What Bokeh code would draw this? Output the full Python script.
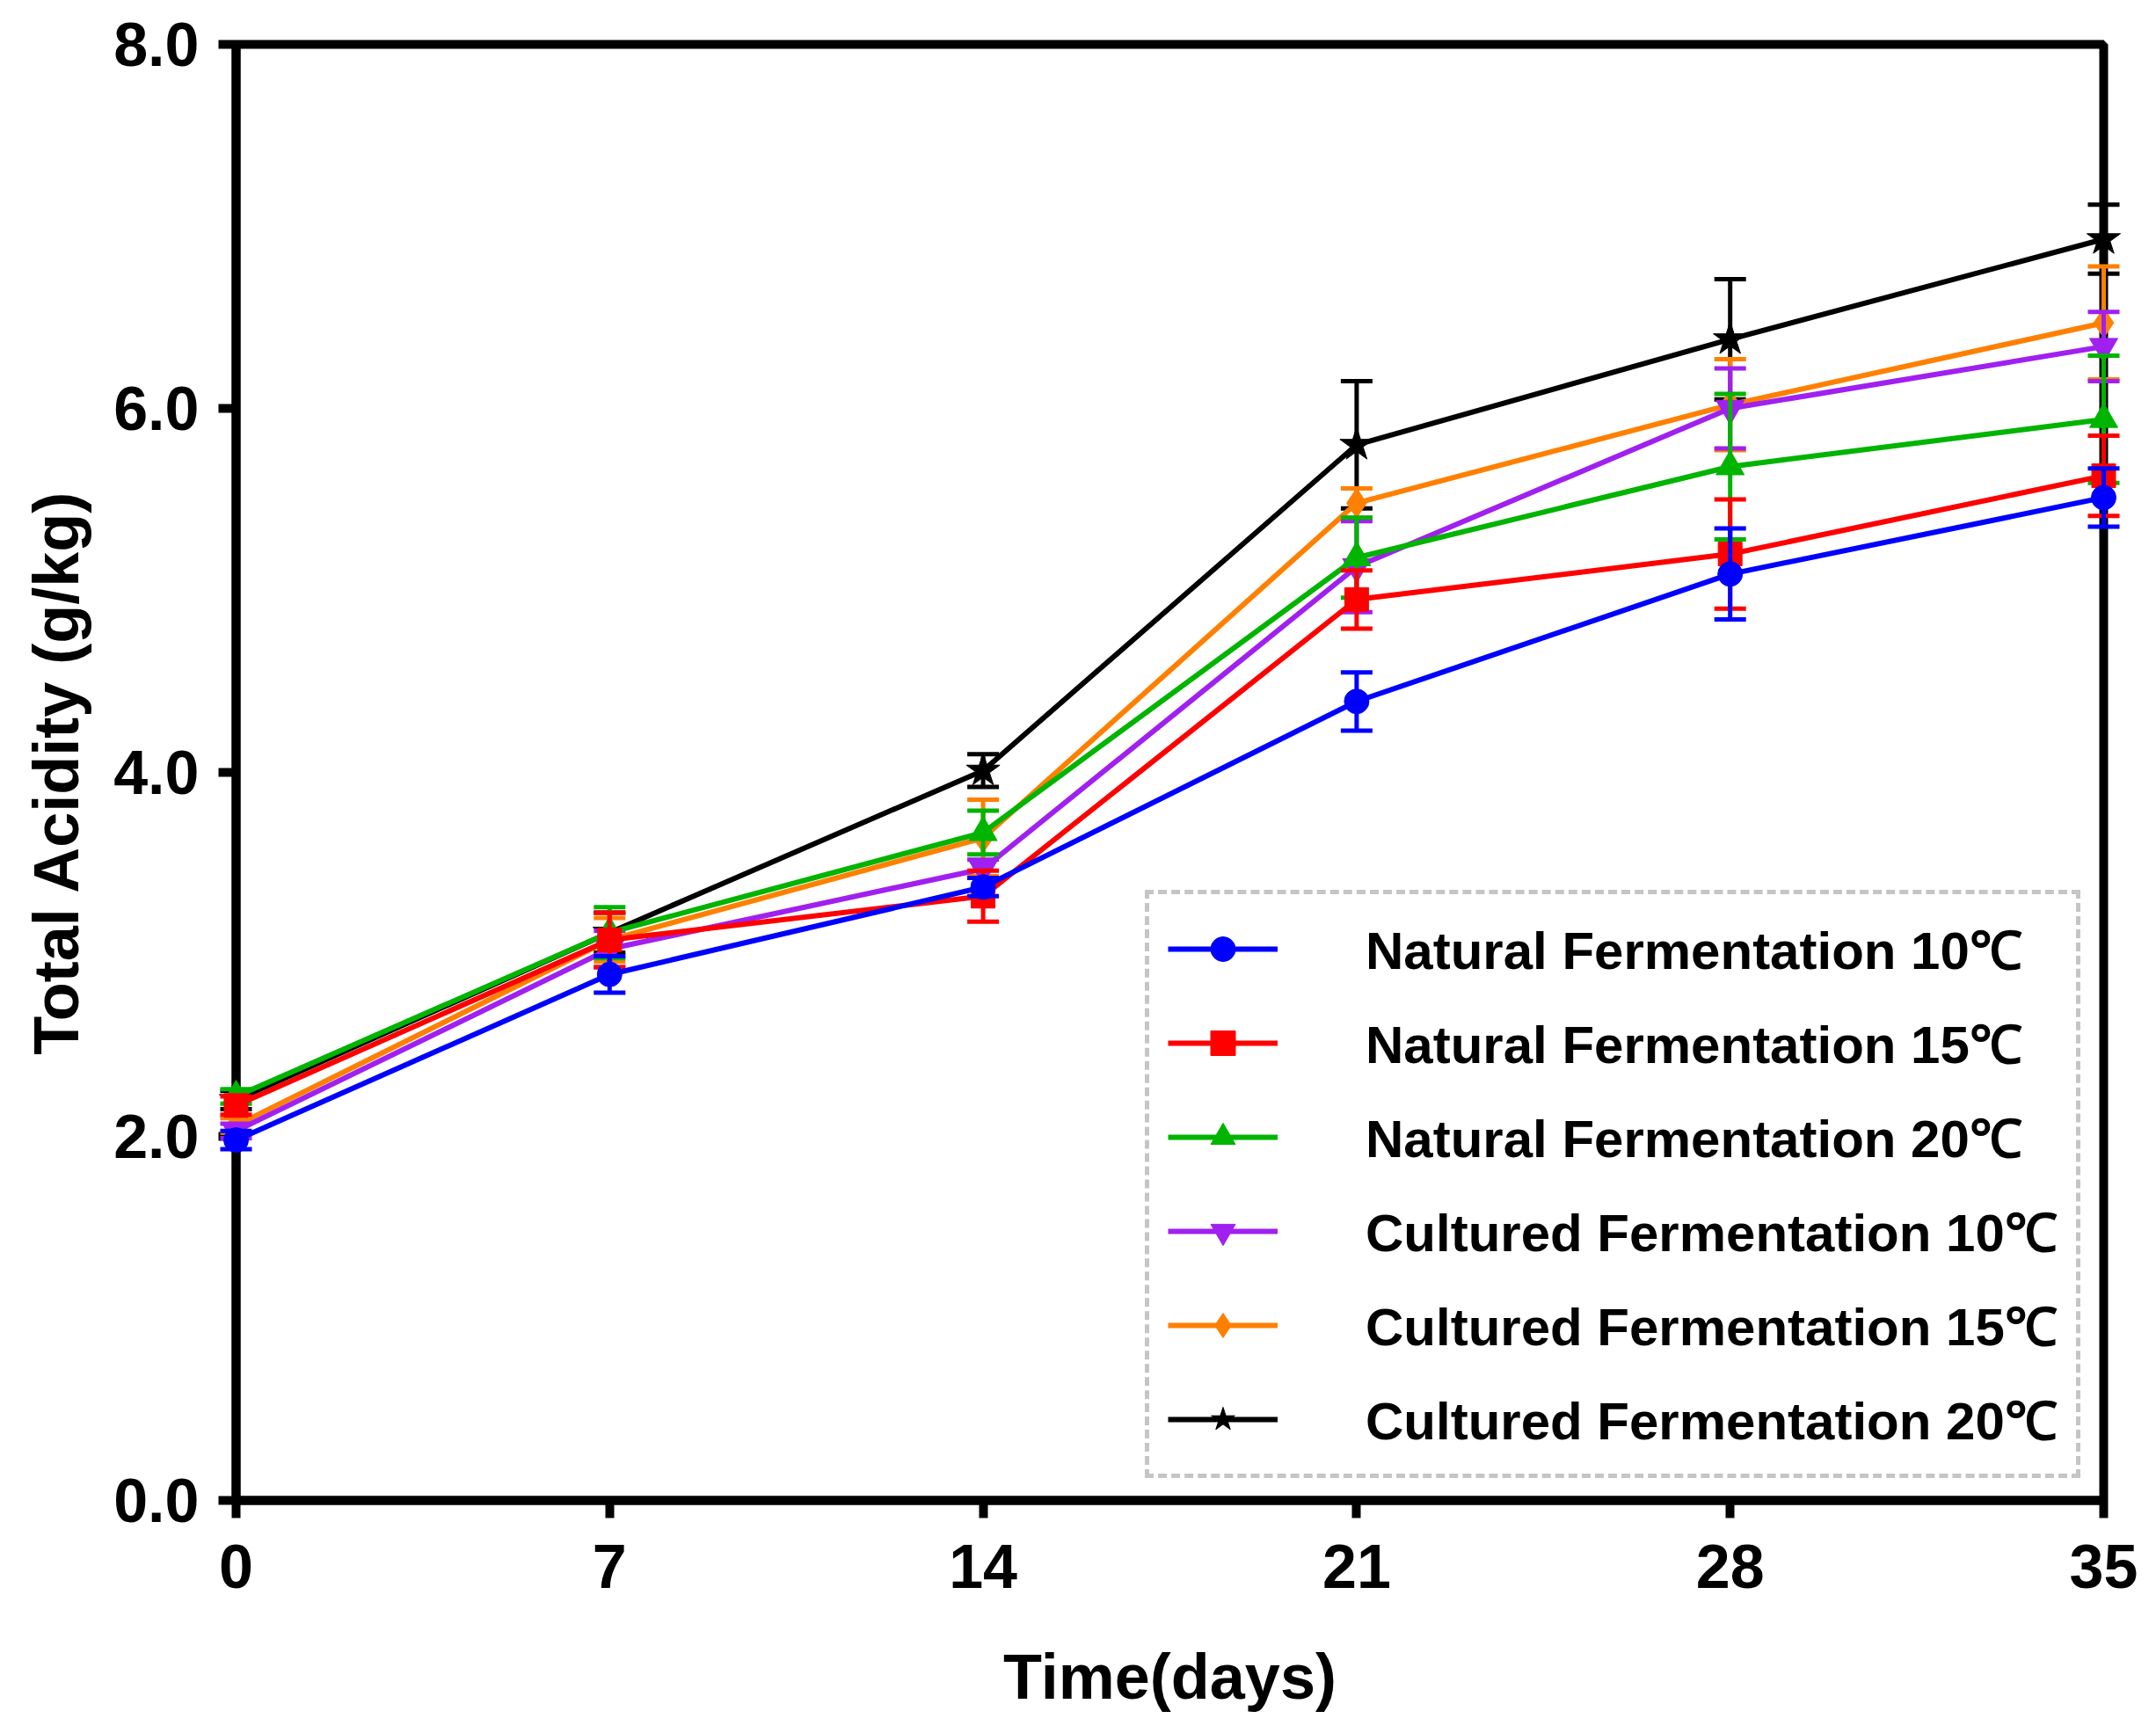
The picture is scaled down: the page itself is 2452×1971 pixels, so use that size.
from bokeh.plotting import figure
from bokeh.models import Legend, LegendItem, FixedTicker, PrintfTickFormatter, Range1d
from bokeh.embed import file_html
from bokeh.resources import INLINE

days = [0, 7, 14, 21, 28, 35]

series_names = [
    "Natural Fermentation 10\u2103",
    "Natural Fermentation 15\u2103",
    "Natural Fermentation 20\u2103",
    "Cultured Fermentation 10\u2103",
    "Cultured Fermentation 15\u2103",
    "Cultured Fermentation 20\u2103",
]

nat10 = [1.98, 2.89, 3.37, 4.39, 5.09, 5.51]
nat10_err = [0.05, 0.10, 0.05, 0.16, 0.25, 0.16]
nat15 = [2.17, 3.08, 3.32, 4.95, 5.20, 5.63]
nat15_err = [0.05, 0.15, 0.14, 0.16, 0.30, 0.22]
nat20 = [2.22, 3.12, 3.67, 5.18, 5.68, 5.94]
nat20_err = [0.04, 0.14, 0.12, 0.22, 0.40, 0.35]
cul10 = [2.03, 3.03, 3.47, 5.13, 6.00, 6.34]
cul10_err = [0.04, 0.10, 0.05, 0.25, 0.22, 0.19]
cul15 = [2.06, 3.08, 3.64, 5.48, 6.02, 6.47]
cul15_err = [0.04, 0.12, 0.21, 0.08, 0.25, 0.31]
cul20 = [2.20, 3.12, 4.01, 5.80, 6.38, 6.93]
cul20_err = [0.05, 0.11, 0.09, 0.35, 0.33, 0.19]

values = [nat10, nat15, nat20, cul10, cul15, cul20]
errors = [nat10_err, nat15_err, nat20_err, cul10_err, cul15_err, cul20_err]
colors = ["#0000FF", "#FF0000", "#00B400", "#A020F0", "#FF8000", "#000000"]
markers = ["circle", "square", "triangle", "inverted_triangle", "diamond", "star"]
msizes = [28, 27, 32, 32, 34, 40]

x_ticks = [0, 7, 14, 21, 28, 35]
y_ticks = [0, 2, 4, 6, 8]

FONT = "Liberation Sans"

p = figure(
    frame_width=2124, frame_height=1656,
    x_range=Range1d(0, 35), y_range=Range1d(0, 8),
    output_backend="svg", toolbar_location=None,
    min_border_left=268, min_border_right=52,
    min_border_top=50, min_border_bottom=250,
)
p.background_fill_color = "white"
p.border_fill_color = "white"
p.xgrid.visible = False
p.ygrid.visible = False
p.outline_line_color = "black"
p.outline_line_width = 10
p.outline_line_alpha = 1.0

for ax in (p.xaxis[0], p.yaxis[0]):
    ax.axis_line_width = 10
    ax.axis_line_color = "black"
    ax.major_tick_line_width = 10
    ax.major_tick_line_color = "black"
    ax.major_tick_out = 20
    ax.major_tick_in = 0
    ax.minor_tick_line_color = None
    ax.major_label_text_font = FONT
    ax.major_label_text_font_style = "bold"
    ax.major_label_text_font_size = "70px"
    ax.major_label_text_color = "black"
    ax.axis_label_text_font = FONT
    ax.axis_label_text_font_style = "bold"
    ax.axis_label_text_font_size = "72px"
    ax.axis_label_text_color = "black"

p.xaxis.ticker = FixedTicker(ticks=x_ticks)
p.yaxis.ticker = FixedTicker(ticks=y_ticks)
p.yaxis.formatter = PrintfTickFormatter(format="%.1f")
p.xaxis.axis_label = "Time(days)"
p.yaxis.axis_label = "Total Acidity (g/kg)"
p.xaxis.major_label_standoff = 30
p.yaxis.major_label_standoff = 22
p.xaxis.axis_label_standoff = 58
p.yaxis.axis_label_standoff = 22

legend_items = [None] * 6
for i in reversed(range(6)):
    v = values[i]
    e = errors[i]
    c = colors[i]
    up = [a + b for a, b in zip(v, e)]
    lo = [a - b for a, b in zip(v, e)]
    r1 = p.segment(x0=days, y0=lo, x1=days, y1=up, line_color=c, line_width=5)
    r2 = p.scatter(x=days + days, y=up + lo, marker="dash", size=36,
                   line_color=c, line_width=5)
    ln = p.line(days, v, line_color=c, line_width=6)
    sc = p.scatter(days, v, marker=markers[i], size=msizes[i],
                   fill_color=c, line_color=c, line_width=1)
    for r in (r1, r2, ln, sc):
        r.level = "overlay"
    legend_items[i] = LegendItem(label=series_names[i], renderers=[ln, sc])

legend = Legend(items=legend_items, location=(1034, 25))
legend.label_text_font = FONT
legend.label_text_font_style = "bold"
legend.label_text_font_size = "60px"
legend.label_text_color = "black"
legend.label_standoff = 100
legend.glyph_width = 125
legend.glyph_height = 70
legend.label_height = 60
legend.spacing = 25
legend.padding = 21
legend.margin = 0
legend.border_line_color = "#8C8C8C"
legend.border_line_width = 5
legend.border_line_dash = "12 10"
legend.background_fill_color = "white"
legend.background_fill_alpha = 1.0
p.add_layout(legend)

open("out.html", "w").write(file_html(p, INLINE))
